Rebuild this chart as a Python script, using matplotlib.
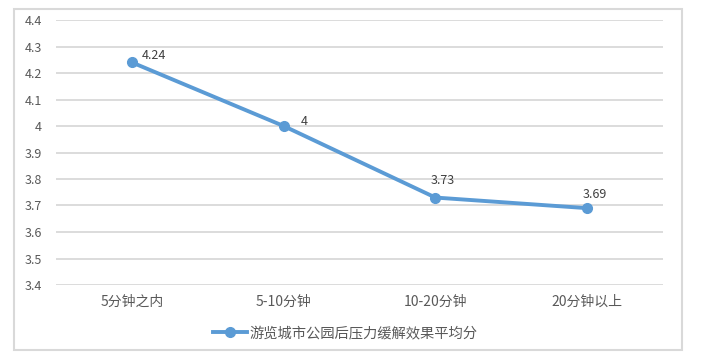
import matplotlib
matplotlib.use("Agg")
import matplotlib.pyplot as plt
from matplotlib.patches import Rectangle
from matplotlib.lines import Line2D

plt.rcParams['font.family'] = ['Noto Sans CJK SC', 'DejaVu Sans']

categories = ["5分钟之内", "5-10分钟", "10-20分钟", "20分钟以上"]
values = [4.24, 4.0, 3.73, 3.69]
series_name = "游览城市公园后压力缓解效果平均分"
yticks = [3.4, 3.5, 3.6, 3.7, 3.8, 3.9, 4.0, 4.1, 4.2, 4.3, 4.4]
ytick_labels = ["3.4", "3.5", "3.6", "3.7", "3.8", "3.9", "4", "4.1", "4.2", "4.3", "4.4"]
value_labels = ["4.24", "4", "3.73", "3.69"]

W, H = 701, 359
fig = plt.figure(figsize=(W/100, H/100), dpi=100)
fig.patch.set_facecolor("white")

# outer frame
fig.patches.append(Rectangle((14/W, 1-350/H), (682-14)/W, (350-9)/H, transform=fig.transFigure,
                             fill=False, edgecolor="#d9d9d9", linewidth=1.5))

ax = fig.add_axes([56/W, 1-285/H, (663-56)/W, (285-20)/H])
x = list(range(len(categories)))
ax.plot(x, values, color="#5b9bd5", linewidth=2.8, marker="o", markersize=7,
        markerfacecolor="#5b9bd5", markeredgecolor="#5b9bd5", zorder=3, clip_on=False)
ax.set_xlim(-0.5, len(categories)-0.5)
ax.set_ylim(3.4, 4.4)
ax.set_yticks(yticks)
ax.set_yticklabels(ytick_labels)
ax.set_xticks(x)
ax.set_xticklabels(categories)
ax.tick_params(axis="y", length=0, labelsize=9, colors="#595959", pad=10)
ax.tick_params(axis="x", length=0, labelsize=10, colors="#595959", pad=7)
ax.grid(axis="y", color="#d9d9d9", linewidth=1.3)
ax.set_axisbelow(True)
for s in ax.spines.values():
    s.set_visible(False)

offsets = [(7.2, 5), (12.2, 3.6), (-3.6, 12.2), (-2.9, 10)]
for xi, v, lab, (dx, dy) in zip(x, values, value_labels, offsets):
    ax.annotate(lab, (xi, v), xytext=(dx, dy), textcoords="offset points",
                ha="left", va="center", fontsize=9, color="#404040")

handle = Line2D([], [], color="#5b9bd5", linewidth=2.8, marker="o", markersize=7)
fig.legend([handle], [series_name], loc="center", bbox_to_anchor=(345/W, 1-333/H),
           frameon=False, fontsize=10.3, handlelength=2.4, handletextpad=0.15,
           labelcolor="#595959")

fig.savefig("out.png", dpi=100)
